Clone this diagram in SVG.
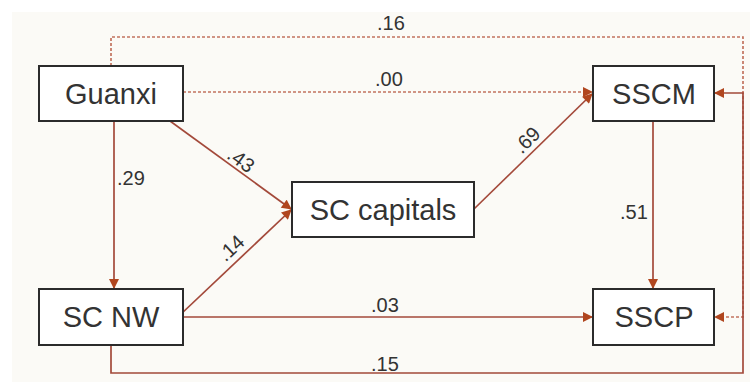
<svg xmlns="http://www.w3.org/2000/svg" width="750" height="382" viewBox="0 0 750 382">
<defs>
<style>
.box{fill:#ffffff;stroke:#2b2b2b;stroke-width:2}
.nt{font-family:"Liberation Sans",Arial,sans-serif;font-size:29px;fill:#333333;text-anchor:middle}
.lb{font-family:"Liberation Sans",Arial,sans-serif;font-size:20px;fill:#333333}
.solid{fill:none;stroke:#a3493a;stroke-width:1.7}
.dot{fill:none;stroke:#c2735f;stroke-width:1.7;stroke-dasharray:3 2}
</style>
<marker id="ah" viewBox="0 0 10 10" refX="9" refY="5" markerWidth="11" markerHeight="10" markerUnits="userSpaceOnUse" orient="auto">
<path d="M0,0 L10,5 L0,10 Z" fill="#b0461f"/>
</marker>
</defs>
<rect x="0" y="0" width="750" height="382" fill="#ffffff"/>
<rect x="12" y="12" width="738" height="370" fill="#fbfaf6"/>
<g id="connectors">
<path class="dot" d="M111,66 V37 H743 V317 H715" marker-end="url(#ah)"/>
<path class="solid" d="M111,345 V373 H743 V93 H715" marker-end="url(#ah)"/>
<path class="dot" d="M183,92 H592" marker-end="url(#ah)"/>
<path class="solid" d="M114,121 V288" marker-end="url(#ah)"/>
<path class="solid" d="M170,121 L291,209" marker-end="url(#ah)"/>
<path class="solid" d="M180,315 L291,210" marker-end="url(#ah)"/>
<path class="solid" d="M474,209 L592,94" marker-end="url(#ah)"/>
<path class="solid" d="M653,121 V288" marker-end="url(#ah)"/>
<path class="solid" d="M183,317 H592" marker-end="url(#ah)"/>
<text class="lb" x="377" y="30">.16</text>
<text class="lb" x="375" y="86">.00</text>
<text class="lb" x="117" y="185">.29</text>
<text class="lb" transform="translate(241,160) rotate(36)" text-anchor="middle" dy="7">.43</text>
<text class="lb" transform="translate(231,248) rotate(-43)" text-anchor="middle" dy="7">.14</text>
<text class="lb" transform="translate(527,140) rotate(-44)" text-anchor="middle" dy="7">.69</text>
<text class="lb" x="620" y="219">.51</text>
<text class="lb" x="371" y="312">.03</text>
<text class="lb" x="371" y="371">.15</text>
</g>
<g id="guanxi">
<rect class="box" x="39" y="66" width="144" height="55"/>
<text class="nt" x="111" y="104">Guanxi</text>
</g>
<g id="sscm">
<rect class="box" x="593" y="66" width="121" height="55"/>
<text class="nt" x="654" y="104">SSCM</text>
</g>
<g id="sc-capitals">
<rect class="box" x="292" y="182" width="182" height="55"/>
<text class="nt" x="383" y="220">SC capitals</text>
</g>
<g id="sc-nw">
<rect class="box" x="39" y="289" width="144" height="56"/>
<text class="nt" x="111" y="327">SC NW</text>
</g>
<g id="sscp">
<rect class="box" x="593" y="289" width="121" height="56"/>
<text class="nt" x="654" y="327">SSCP</text>
</g>
</svg>
